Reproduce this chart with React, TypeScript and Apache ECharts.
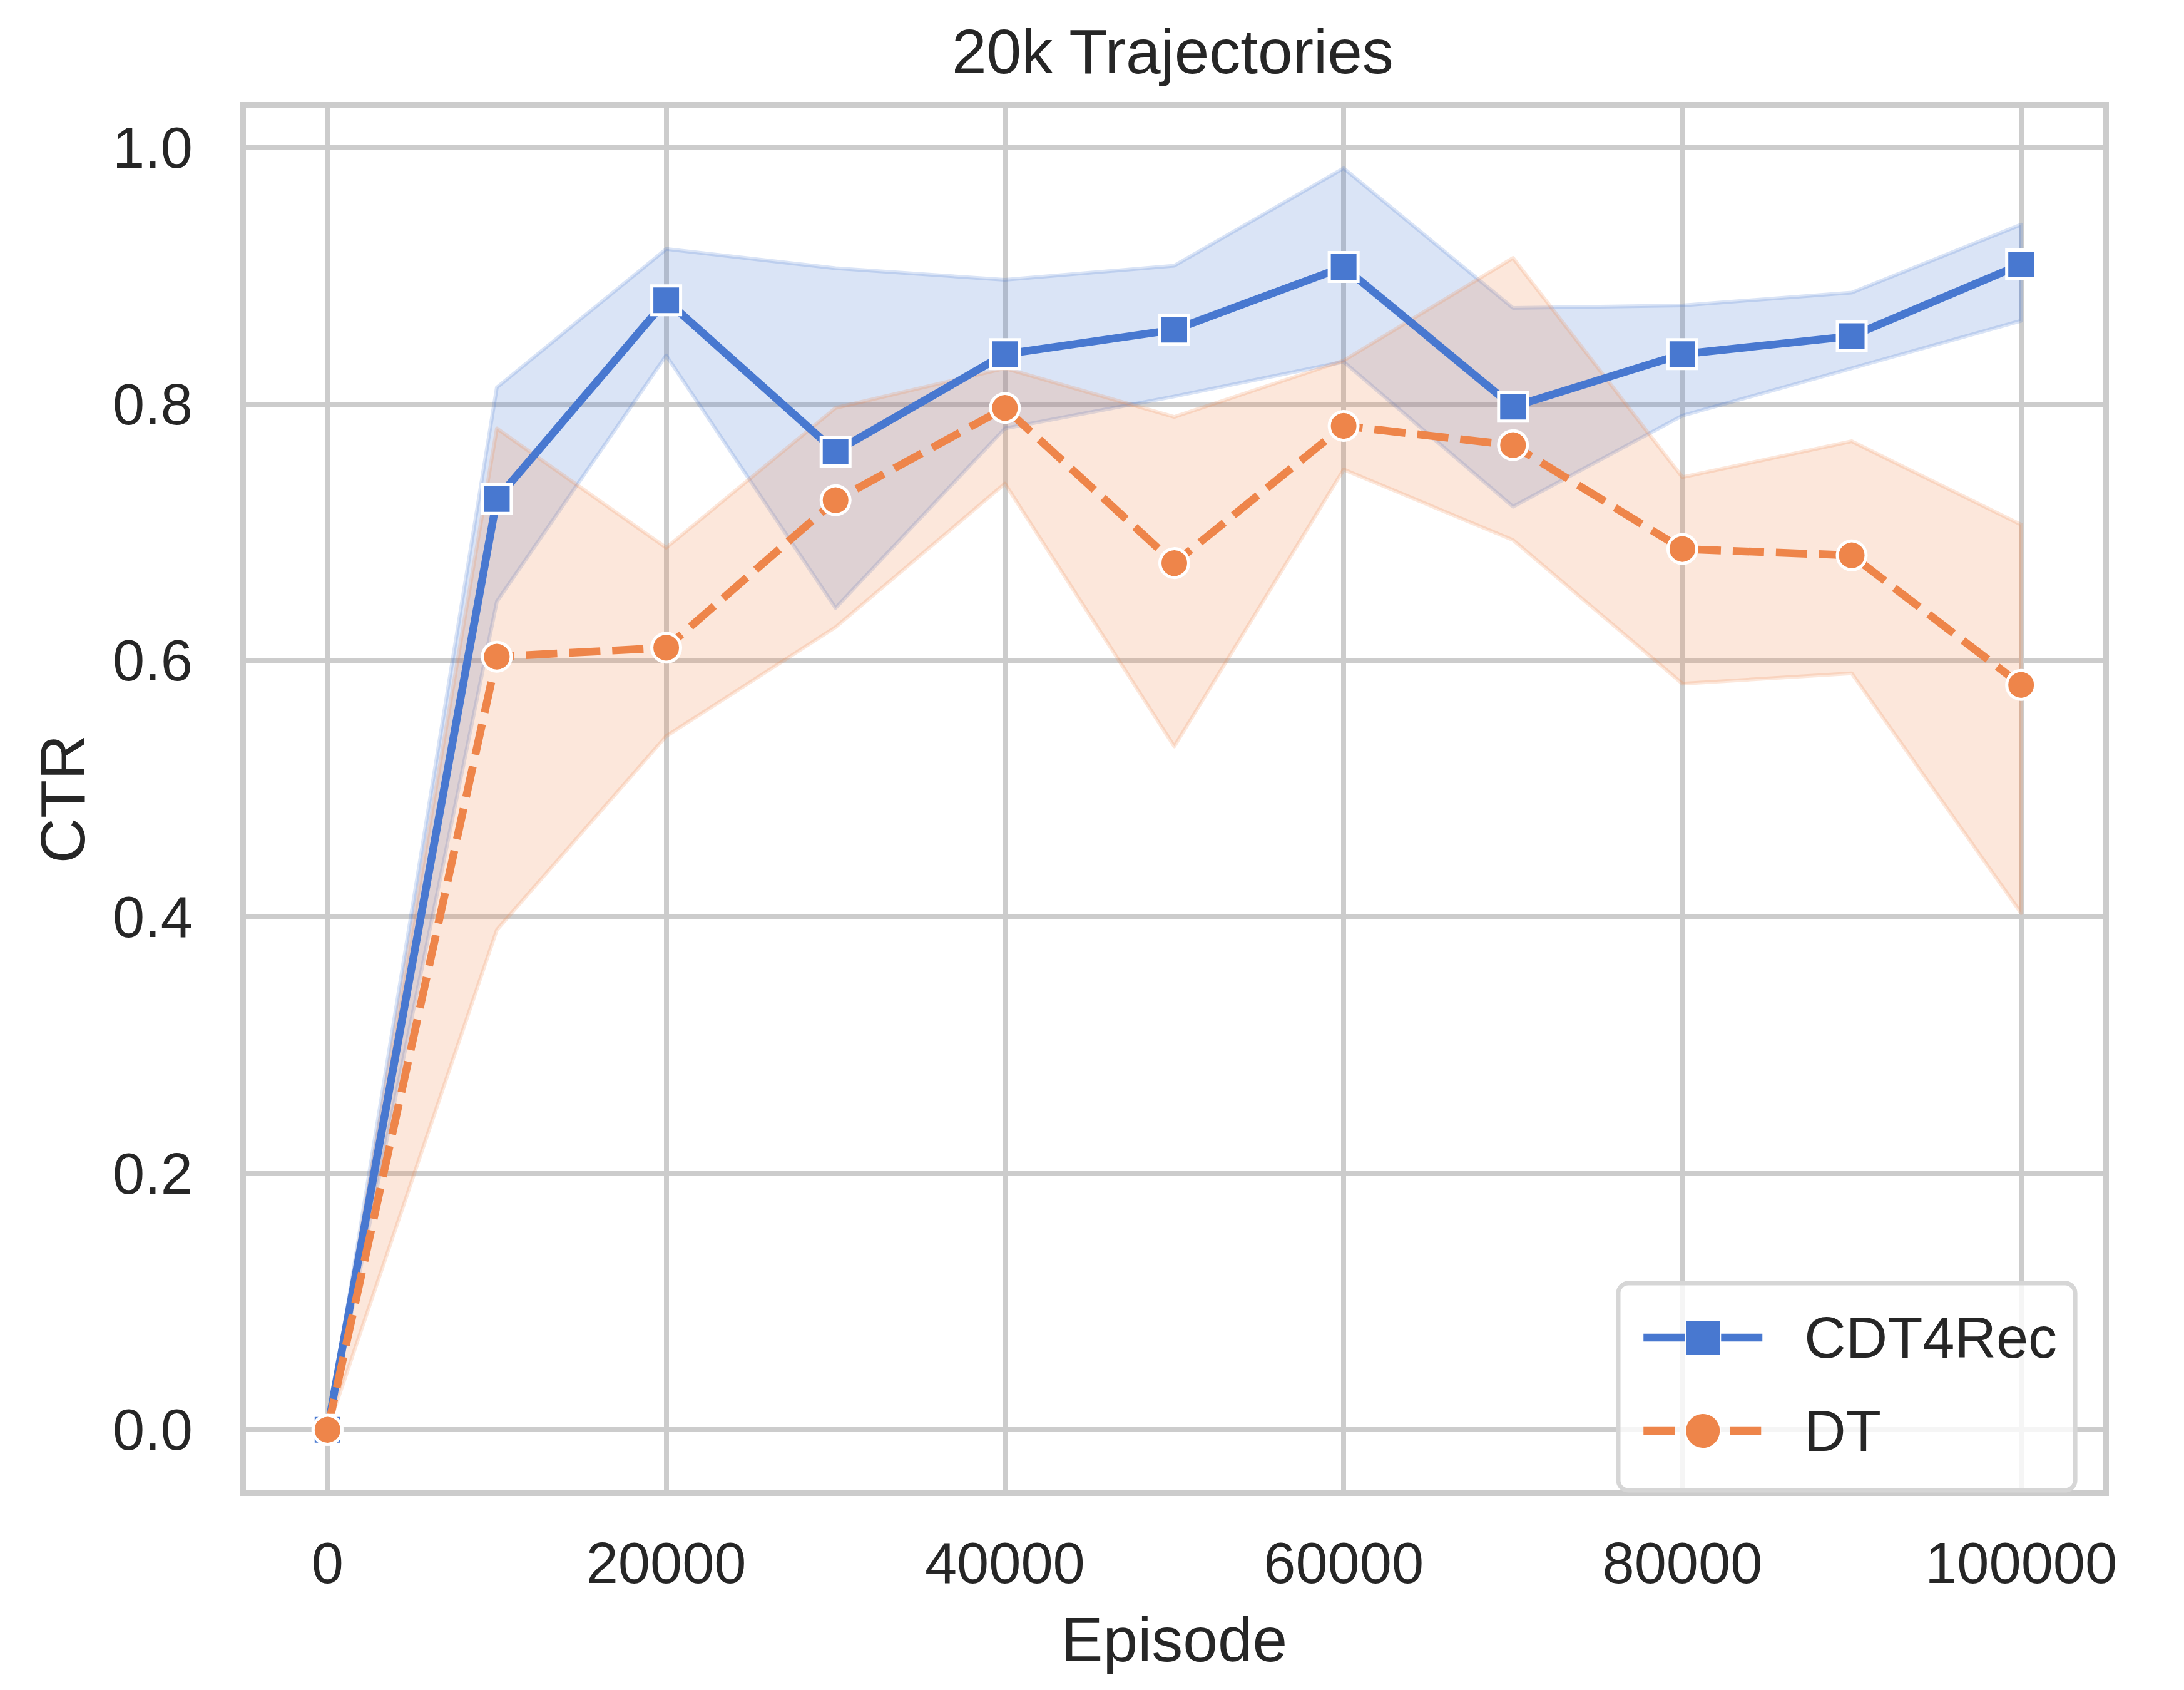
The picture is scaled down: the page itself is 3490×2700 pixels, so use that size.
import React, { useEffect, useRef } from "react";
import * as echarts from "echarts";

// ---- data ----
const episodes = [0, 10000, 20000, 30000, 40000, 50000, 60000, 70000, 80000, 90000, 100000];

const cdt4rec = [0, 0.726, 0.881, 0.763, 0.839, 0.858, 0.907, 0.798, 0.839, 0.853, 0.909];
const cdt4recUpper = [0, 0.813, 0.921, 0.906, 0.897, 0.908, 0.984, 0.875, 0.877, 0.887, 0.940];
const cdt4recLower = [0, 0.646, 0.838, 0.641, 0.781, 0.806, 0.833, 0.720, 0.791, 0.828, 0.865];

const dt = [0, 0.603, 0.610, 0.725, 0.797, 0.676, 0.783, 0.768, 0.687, 0.682, 0.581];
const dtUpper = [0, 0.781, 0.688, 0.797, 0.828, 0.790, 0.834, 0.914, 0.743, 0.771, 0.706];
const dtLower = [0, 0.390, 0.541, 0.626, 0.738, 0.533, 0.749, 0.694, 0.582, 0.590, 0.403];

const xTicks = [0, 20000, 40000, 60000, 80000, 100000];
const yTicks = [0, 0.2, 0.4, 0.6, 0.8, 1.0];

const titleText = "20k Trajectories";
const xName = "Episode";
const yName = "CTR";
const seriesNames = ["CDT4Rec", "DT"];

// ---- styles ----
const FONT = "'Liberation Sans', Arial, Helvetica, sans-serif";
const TEXT = "#262626";
const GRID = "#cccccc";
const BLUE = "#4878d0";
const ORANGE = "#ee854a";
const BLUE_A = "rgba(72,120,208,0.2)";
const ORANGE_A = "rgba(238,133,74,0.2)";

const pairs = (ys: number[]) => episodes.map((x, i) => [x, ys[i]]);

function bandSeries(id: string, lo: number[], hi: number[], color: string) {
  return {
    id,
    name: id,
    type: "custom",
    silent: true,
    z: 2,
    data: episodes.map((x, i) => [x, lo[i], hi[i]]),
    encode: { x: 0, y: [1, 2] },
    renderItem: (params: any, api: any) => {
      if (params.dataIndex !== 0) return null;
      const n = params.dataInsideLength;
      const upper: number[][] = [];
      const lower: number[][] = [];
      for (let i = 0; i < n; i++) {
        const x = api.value(0, i);
        upper.push(api.coord([x, api.value(2, i)]));
        lower.push(api.coord([x, api.value(1, i)]));
      }
      const pts = upper.concat(lower.reverse());
      return {
        type: "polygon",
        shape: { points: pts },
        style: { fill: color, stroke: color, lineWidth: 6, lineJoin: "round" },
      };
    },
  };
}

export default function App() {
  const ref = useRef<HTMLDivElement>(null);

  useEffect(() => {
    document.body.style.margin = "0";
    if (!ref.current) return;
    const chart = echarts.init(ref.current, undefined, { renderer: "svg" });

    const option: any = {
      animation: false,
      backgroundColor: "#ffffff",
      textStyle: { fontFamily: FONT, color: TEXT },
      title: {
        text: titleText,
        left: 1521,
        top: 32,
        padding: 0,
        textStyle: { fontFamily: FONT, fontSize: 100, fontWeight: "normal", color: TEXT, lineHeight: 100 },
      },
      grid: {
        left: 388,
        top: 168,
        width: 2977,
        height: 2217,
        show: true,
        borderColor: GRID,
        borderWidth: 10,
        backgroundColor: "#ffffff",
        containLabel: false,
      },
      legend: {
        data: [
          { name: seriesNames[0], lineStyle: { width: 12.5, color: BLUE } },
          { name: seriesNames[1], lineStyle: { width: 12.5, color: ORANGE, type: [50, 19] } },
        ],
        orient: "vertical",
        left: 2586,
        top: 2050,
        itemWidth: 190,
        itemHeight: 70,
        itemGap: 57,
        padding: [41, 29, 49, 34],
        backgroundColor: "rgba(255,255,255,0.8)",
        borderColor: "#d6d6d6",
        borderWidth: 7,
        borderRadius: 16,
        textStyle: {
          fontFamily: FONT,
          fontSize: 92,
          color: TEXT,
          lineHeight: 70,
          padding: [0, 0, 0, 62],
        },
      },
      xAxis: {
        type: "value",
        min: -5000,
        max: 105000,
        name: xName,
        nameLocation: "middle",
        nameGap: 184,
        nameTextStyle: { fontFamily: FONT, fontSize: 100, color: TEXT, lineHeight: 100 },
        axisLine: { show: false },
        axisTick: { show: false, customValues: xTicks },
        axisLabel: {
          customValues: xTicks,
          formatter: (v: number) => String(Math.round(v)),
          fontFamily: FONT,
          fontSize: 92,
          lineHeight: 92,
          color: TEXT,
          margin: 66,
        },
        splitLine: { show: true, lineStyle: { color: GRID, width: 8 } },
      },
      yAxis: {
        type: "value",
        min: -0.0492,
        max: 1.0332,
        name: yName,
        nameLocation: "middle",
        nameGap: 238,
        nameTextStyle: { fontFamily: FONT, fontSize: 100, color: TEXT, lineHeight: 100 },
        axisLine: { show: false },
        axisTick: { show: false, customValues: yTicks },
        axisLabel: {
          customValues: yTicks,
          formatter: (v: number) => v.toFixed(1),
          fontFamily: FONT,
          fontSize: 92,
          lineHeight: 92,
          color: TEXT,
          margin: 80,
        },
        splitLine: { show: true, lineStyle: { color: GRID, width: 8 } },
      },
      series: [
        bandSeries("cdtband", cdt4recLower, cdt4recUpper, BLUE_A),
        bandSeries("dtband", dtLower, dtUpper, ORANGE_A),
        {
          name: seriesNames[0],
          type: "line",
          data: pairs(cdt4rec),
          symbol: "rect",
          symbolSize: 46,
          itemStyle: { color: BLUE, borderColor: "#ffffff", borderWidth: 5 },
          lineStyle: { color: BLUE, width: 12.5 },
          z: 3,
        },
        {
          name: seriesNames[1],
          type: "line",
          data: pairs(dt),
          symbol: "circle",
          symbolSize: 46,
          itemStyle: { color: ORANGE, borderColor: "#ffffff", borderWidth: 5 },
          lineStyle: { color: ORANGE, width: 12.5, type: [50, 19] },
          z: 3,
        },
      ],
    };

    chart.setOption(option);
    return () => chart.dispose();
  }, []);

  return (
    <div
      ref={ref}
      style={{ position: "absolute", left: 0, top: 0, width: 3490, height: 2700 }}
    />
  );
}
